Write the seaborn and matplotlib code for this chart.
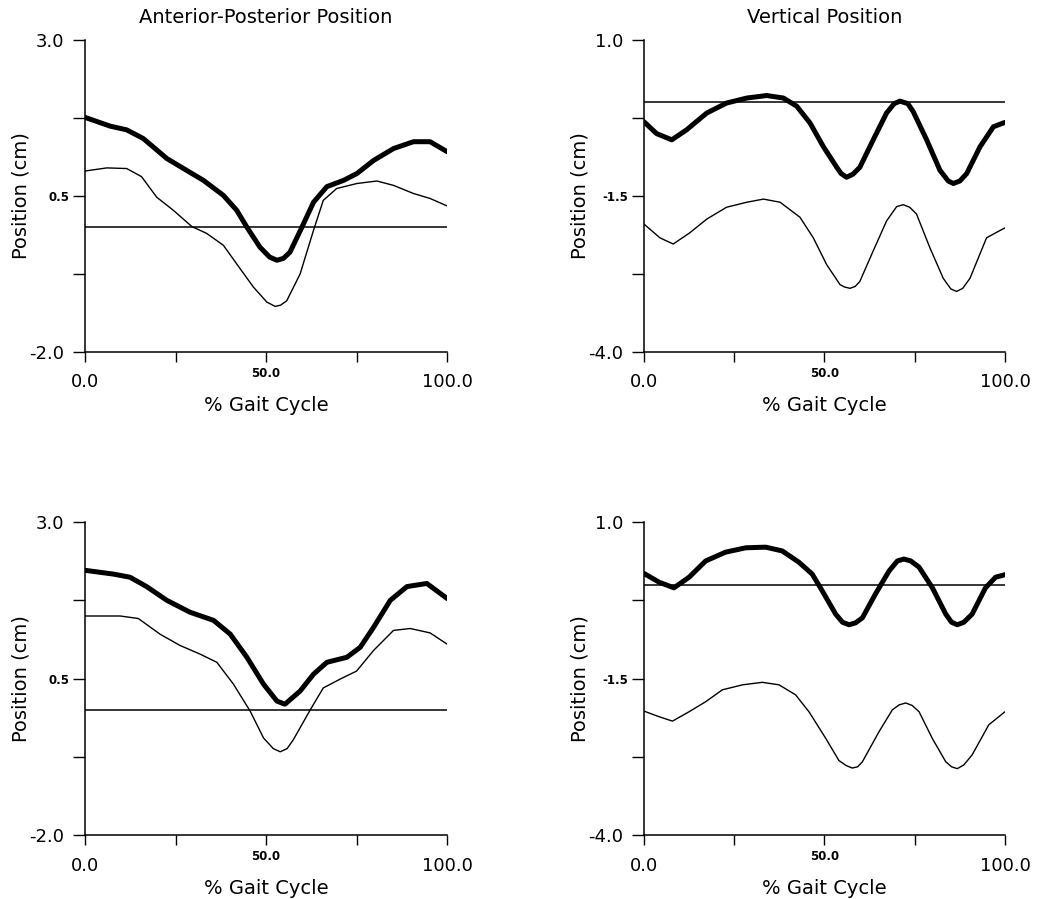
import matplotlib
matplotlib.use("Agg")
import pandas as pd
import seaborn as sns
import matplotlib.pyplot as plt

# % gait cycle / position (cm)
ap_top_thick_x = [0, 6.9, 11.5, 16.1, 22.6, 27.2, 32.7, 38.2, 41.9, 44.7, 48.3, 51.0, 53.0,
                  54.8, 56.6, 59.9, 63.1, 66.8, 71.4, 75.1, 79.7, 85.2, 90.7, 95.3, 100]
ap_top_thick_y = [1.76, 1.62, 1.56, 1.42, 1.10, 0.94, 0.75, 0.51, 0.27, 0.00, -0.32, -0.48,
                  -0.53, -0.50, -0.40, 0.00, 0.40, 0.65, 0.75, 0.86, 1.07, 1.26, 1.37, 1.37,
                  1.21]
ap_top_thin_x = [0, 6.0, 11.5, 15.6, 19.8, 24.4, 29.5, 33.6, 38.2, 41.9, 46.5, 50.2,
                 52.5, 54.0, 55.7, 59.4, 63.1, 65.8, 69.5, 75.1, 80.6, 85.2, 90.7, 95.3, 100]
ap_top_thin_y = [0.90, 0.95, 0.94, 0.81, 0.48, 0.27, 0.01, -0.10, -0.29, -0.59, -0.96, -1.20,
                 -1.27, -1.25, -1.18, -0.75, -0.05, 0.43, 0.62, 0.70, 0.74, 0.67, 0.54, 0.46,
                 0.34]

vt_top_thick_x = [0, 3.5, 7.7, 11.8, 17.4, 22.9, 28.5, 34.0, 38.6, 42.3, 46.0, 49.7, 53.4,
                  54.6, 56.1, 57.9, 59.8, 63.5, 67.2, 69.3, 70.9, 73.1, 74.6, 78.3, 82.0,
                  84.3, 85.7, 87.5, 89.4, 93.1, 96.8, 100]
vt_top_thick_y = [-0.31, -0.50, -0.60, -0.44, -0.17, -0.01, 0.07, 0.11, 0.07, -0.06, -0.33,
                  -0.71, -1.04, -1.14, -1.20, -1.15, -1.04, -0.60, -0.17, -0.02, 0.02, -0.02,
                  -0.15, -0.60, -1.09, -1.26, -1.30, -1.26, -1.14, -0.71, -0.39, -0.32]
vt_top_thin_x = [0, 4.4, 8.1, 12.7, 17.4, 22.9, 28.5, 33.1, 37.7, 43.2, 46.9, 50.6, 54.3,
                 55.6, 57.1, 58.5, 59.8, 63.5, 67.2, 70.0, 71.8, 73.6, 75.5, 79.2, 82.9,
                 85.0, 86.6, 88.3, 90.3, 94.9, 100]
vt_top_thin_y = [-1.95, -2.17, -2.27, -2.09, -1.87, -1.68, -1.60, -1.55, -1.60, -1.84, -2.17,
                 -2.60, -2.92, -2.96, -2.98, -2.95, -2.87, -2.38, -1.90, -1.67, -1.64, -1.68,
                 -1.79, -2.33, -2.82, -2.99, -3.03, -2.98, -2.82, -2.17, -2.01]

ap_bot_thick_x = [0, 7.8, 12.4, 17.0, 22.6, 29.0, 35.5, 40.1, 44.7, 49.3, 53.0, 55.2,
                  59.4, 63.1, 66.8, 72.3, 76.0, 79.7, 84.3, 88.9, 94.4, 100]
ap_bot_thick_y = [2.23, 2.17, 2.12, 1.97, 1.75, 1.56, 1.43, 1.21, 0.84, 0.41, 0.14, 0.09,
                  0.30, 0.57, 0.76, 0.84, 1.00, 1.32, 1.75, 1.97, 2.02, 1.78]
ap_bot_thin_x = [0, 9.7, 14.7, 20.7, 26.2, 31.8, 36.4, 41.0, 45.6, 49.3, 52.0, 53.9, 55.8,
                 57.5, 62.2, 65.8, 70.4, 75.0, 79.7, 85.2, 89.8, 95.3, 100]
ap_bot_thin_y = [1.50, 1.50, 1.46, 1.21, 1.03, 0.89, 0.76, 0.41, -0.02, -0.45, -0.62, -0.67,
                 -0.62, -0.48, 0.00, 0.35, 0.49, 0.62, 0.95, 1.27, 1.30, 1.23, 1.05]

vt_bot_thick_x = [0, 4.2, 8.3, 12.5, 17.1, 22.6, 28.2, 33.7, 38.3, 42.9, 46.6, 49.4, 53.1,
                  55.0, 56.8, 58.6, 60.5, 64.1, 67.9, 70.2, 72.0, 73.9, 76.2, 79.9, 83.6,
                  85.2, 86.8, 88.6, 90.9, 94.6, 97.4, 100]
vt_bot_thick_y = [0.18, 0.04, -0.05, 0.12, 0.38, 0.52, 0.59, 0.60, 0.54, 0.36, 0.17, -0.10,
                  -0.47, -0.60, -0.64, -0.61, -0.53, -0.15, 0.22, 0.38, 0.41, 0.38, 0.28,
                  -0.05, -0.47, -0.60, -0.64, -0.60, -0.47, -0.05, 0.12, 0.16]
vt_bot_thin_x = [0, 4.2, 7.9, 12.5, 17.1, 21.7, 27.3, 32.8, 37.4, 42.0, 45.7, 50.4, 54.0,
                 56.0, 57.7, 59.2, 60.5, 65.1, 68.8, 70.7, 72.5, 74.3, 76.2, 79.9, 83.6,
                 85.2, 86.8, 88.6, 90.9, 95.5, 100]
vt_bot_thin_y = [-2.02, -2.11, -2.18, -2.03, -1.87, -1.68, -1.60, -1.56, -1.60, -1.76, -2.03,
                 -2.46, -2.81, -2.89, -2.93, -2.91, -2.83, -2.35, -2.00, -1.92, -1.89, -1.93,
                 -2.03, -2.46, -2.83, -2.91, -2.94, -2.88, -2.72, -2.24, -2.03]

ap_ticks = [3.0, 1.75, -0.75, -2.0]
ap_tick_labels = ["3.0", "", "", "-2.0"]
ap_mid = 0.5
vt_ticks = [1.0, -0.25, -2.75, -4.0]
vt_tick_labels = ["1.0", "", "", "-4.0"]
vt_mid = -1.5

sns.set_style("ticks", {"axes.edgecolor": "black", "xtick.color": "black",
                        "ytick.color": "black", "text.color": "black",
                        "axes.labelcolor": "black"})
plt.rcParams["font.family"] = ["DejaVu Sans"]


def draw_panel(ax, thick_x, thick_y, thin_x, thin_y, yticks, ylabels, ymid, title=None):
    ax.axhline(0, color="black", lw=1.1)
    sns.lineplot(x=thin_x, y=thin_y, ax=ax, color="black", lw=1.0,
                 sort=False, estimator=None)
    sns.lineplot(x=thick_x, y=thick_y, ax=ax, color="black", lw=3.6,
                 sort=False, estimator=None)
    for ln in ax.get_lines():
        ln.set_solid_joinstyle("round")
        ln.set_solid_capstyle("round")

    ax.set_xlim(0, 100)
    ax.set_ylim(yticks[-1], yticks[0])
    ax.set_xticks([0, 25, 75, 100], labels=["0.0", "", "", "100.0"])
    ax.set_xticks([50], labels=["50.0"], minor=True, fontweight="bold")
    ax.set_yticks(yticks, labels=ylabels)
    ax.set_yticks([ymid], labels=[f"{ymid:.1f}"], minor=True, fontweight="bold")

    ax.tick_params(axis="x", which="both", length=7.5, width=1.0, labelsize=13, pad=8)
    ax.tick_params(axis="x", which="minor", labelsize=8.5, pad=3.5)
    ax.tick_params(axis="y", which="both", length=9, width=1.0, labelsize=13, pad=6)
    ax.tick_params(axis="y", which="minor", labelsize=8.5, pad=2)
    for side in ["left", "bottom"]:
        ax.spines[side].set_linewidth(1.1)
    sns.despine(ax=ax)

    ax.set_xlabel("% Gait Cycle", fontsize=14)
    ax.set_ylabel("Position (cm)", fontsize=14)
    ax.xaxis.set_label_coords(0.5, -0.14)
    ax.yaxis.set_label_coords(-0.15, 0.5)
    if title:
        ax.set_title(title, fontsize=14, pad=12)


fig = plt.figure(figsize=(10.41, 8.99), dpi=100)
ax_tl = fig.add_axes([0.0817, 0.6085, 0.3478, 0.347])
ax_tr = fig.add_axes([0.6186, 0.6085, 0.3468, 0.347])
ax_bl = fig.add_axes([0.0817, 0.0712, 0.3478, 0.348])
ax_br = fig.add_axes([0.6186, 0.0712, 0.3468, 0.348])

draw_panel(ax_tl, ap_top_thick_x, ap_top_thick_y, ap_top_thin_x, ap_top_thin_y,
           ap_ticks, ap_tick_labels, ap_mid, "Anterior-Posterior Position")
draw_panel(ax_tr, vt_top_thick_x, vt_top_thick_y, vt_top_thin_x, vt_top_thin_y,
           vt_ticks, vt_tick_labels, vt_mid, "Vertical Position")
draw_panel(ax_bl, ap_bot_thick_x, ap_bot_thick_y, ap_bot_thin_x, ap_bot_thin_y,
           ap_ticks, ap_tick_labels, ap_mid)
draw_panel(ax_br, vt_bot_thick_x, vt_bot_thick_y, vt_bot_thin_x, vt_bot_thin_y,
           vt_ticks, vt_tick_labels, vt_mid)

fig.savefig("out.png", dpi=100)
